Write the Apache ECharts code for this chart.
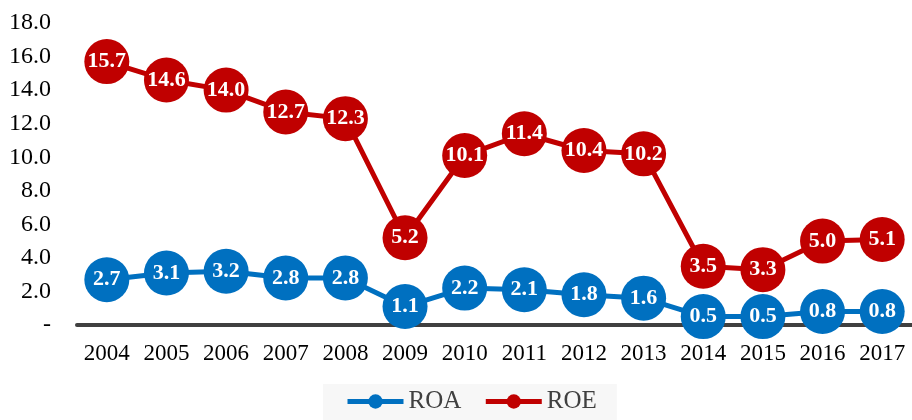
<!DOCTYPE html>
<html>
<head>
<meta charset="utf-8">
<script src="https://cdn.jsdelivr.net/npm/echarts@6/dist/echarts.min.js"></script>
<style>
  html, body { margin: 0; padding: 0; background: #fff; }
  #chart { width: 912px; height: 420px; }
</style>
</head>
<body>
<div id="chart"></div>
<script>
const years = ['2004', '2005', '2006', '2007', '2008', '2009', '2010', '2011', '2012', '2013', '2014', '2015', '2016', '2017']
const roa = [2.7, 3.1, 3.2, 2.8, 2.8, 1.1, 2.2, 2.1, 1.8, 1.6, 0.5, 0.5, 0.8, 0.8]
const roe = [15.7, 14.6, 14.0, 12.7, 12.3, 5.2, 10.1, 11.4, 10.4, 10.2, 3.5, 3.3, 5.0, 5.1]

const font = '"Liberation Serif", "Times New Roman", serif'

// shared style for both lines
function lineSeries(name, data, color) {
  return {
    name: name,
    type: 'line',
    data: data,
    symbol: 'circle',
    symbolSize: 45,
    showSymbol: true,
    showAllSymbol: true,
    itemStyle: { color: color },
    lineStyle: { color: color, width: 5 },
    labelLayout: { hideOverlap: false },
    label: {
      show: true,
      position: 'inside',
      color: '#fff',
      fontFamily: font,
      fontWeight: 'bold',
      fontSize: 22,
      formatter: p => p.value.toFixed(1)
    }
  }
}

const myChart = echarts.init(document.getElementById('chart'))
myChart.setOption({
  animation: false,
  textStyle: { fontFamily: font },
  grid: { left: 77, right: 0, top: 23, bottom: 95 },
  legend: {
    top: 384,
    left: 323,
    padding: [5, 20, 12, 22],
    backgroundColor: '#f7f7f7',
    itemWidth: 56,
    itemHeight: 18,
    itemGap: 22,
    lineStyle: { width: 5 },
    textStyle: { fontFamily: font, fontSize: 25, color: '#404040' },
    data: ['ROA', 'ROE']
  },
  xAxis: {
    type: 'category',
    data: years,
    axisLine: { lineStyle: { color: '#404040', width: 4 } },
    axisTick: { show: false },
    axisLabel: { interval: 0, color: '#000', fontSize: 23, fontFamily: font, margin: 17 }
  },
  yAxis: {
    type: 'value',
    min: 0,
    max: 18,
    interval: 2,
    splitLine: { show: false },
    axisLine: { show: false },
    axisTick: { show: false },
    axisLabel: {
      color: '#000',
      fontSize: 24,
      fontFamily: font,
      margin: 26,
      formatter: v => (v === 0 ? '-' : v.toFixed(1))
    }
  },
  series: [
    lineSeries('ROA', roa, '#0070C0'),
    lineSeries('ROE', roe, '#C00000')
  ]
})
</script>
</body>
</html>
